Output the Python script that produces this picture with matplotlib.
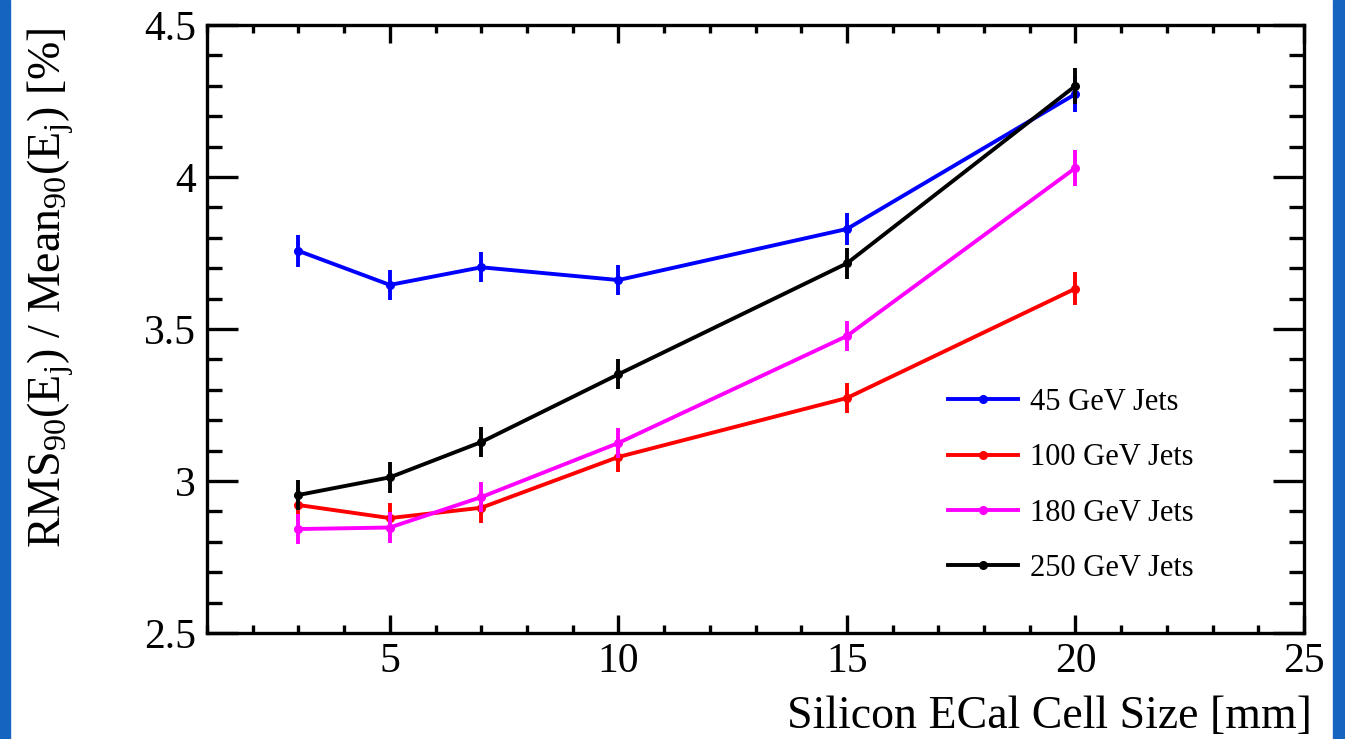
import matplotlib
matplotlib.use("Agg")
import matplotlib.pyplot as plt
from matplotlib.ticker import MultipleLocator, FormatStrFormatter
from matplotlib.patches import Rectangle

plt.rcParams['font.family'] = ['Liberation Serif', 'DejaVu Serif']
plt.rcParams['mathtext.fontset'] = 'custom'
plt.rcParams['mathtext.rm'] = 'Liberation Serif'
plt.rcParams['mathtext.it'] = 'Liberation Serif:italic'
plt.rcParams['mathtext.default'] = 'regular'

# Datos
cell_size = [3, 5, 7, 10, 15, 20]
res_45 = [3.757, 3.645, 3.703, 3.661, 3.829, 4.273]
res_100 = [2.921, 2.878, 2.912, 3.079, 3.273, 3.633]
res_180 = [2.842, 2.847, 2.947, 3.125, 3.477, 4.030]
res_250 = [2.954, 3.012, 3.128, 3.351, 3.716, 4.300]
err_45 = [0.053, 0.050, 0.050, 0.050, 0.053, 0.060]
err_100 = [0.050, 0.050, 0.050, 0.050, 0.050, 0.053]
err_180 = [0.050, 0.050, 0.050, 0.050, 0.050, 0.060]
err_250 = [0.050, 0.050, 0.050, 0.050, 0.050, 0.060]

series = [
    ("45 GeV Jets", res_45, err_45, "#0000ff"),
    ("100 GeV Jets", res_100, err_100, "#ff0000"),
    ("180 GeV Jets", res_180, err_180, "#ff00ff"),
    ("250 GeV Jets", res_250, err_250, "#000000"),
]

fig = plt.figure(figsize=(13.45, 7.39), dpi=100)
fig.patch.set_facecolor("white")

# bordes azules del fondo
fig.patches.append(Rectangle((0, 0), 10 / 1345, 1, transform=fig.transFigure,
                             color="#1565c0", zorder=0))
fig.patches.append(Rectangle((1333 / 1345, 0), 12 / 1345, 1, transform=fig.transFigure,
                             color="#1565c0", zorder=0))

ax = fig.add_axes([207 / 1345, 1 - 633 / 739, 1097 / 1345, 608 / 739])

for label, vals, errs, col in series:
    ax.errorbar(cell_size, vals, yerr=errs, fmt="none", ecolor=col,
                elinewidth=2.8, capsize=0)
    ax.plot(cell_size, vals, color=col, lw=2.8, marker="o", markersize=5.5,
            label=label)

ax.set_xlim(1, 25)
ax.set_ylim(2.5, 4.5)
ax.xaxis.set_major_locator(MultipleLocator(5))
ax.xaxis.set_minor_locator(MultipleLocator(1))
ax.yaxis.set_major_locator(MultipleLocator(0.5))
ax.yaxis.set_minor_locator(MultipleLocator(0.1))
ax.yaxis.set_major_formatter(FormatStrFormatter("%g"))

for sp in ax.spines.values():
    sp.set_linewidth(2.4)

ax.tick_params(which="both", direction="in", top=True, right=True, width=2.4,
               labelsize=30, labelfontfamily="Liberation Serif")
ax.tick_params(axis="x", which="major", length=13, pad=7)
ax.tick_params(axis="x", which="minor", length=6)
ax.tick_params(axis="y", which="major", length=22, pad=8)
ax.tick_params(axis="y", which="minor", length=11)

fig.text(1312 / 1345, 11 / 739, "Silicon ECal Cell Size [mm]", ha="right",
         va="baseline", fontsize=33)
fig.text(26 / 1345, 1 - 27 / 739,
         "RMS$_{90}$(E$_{j}$) / Mean$_{90}$(E$_{j}$) [%]",
         rotation=90, ha="left", va="top", fontsize=33)

ax.legend(loc="upper left", bbox_to_anchor=((948 - 207) / 1097, (633 - 388) / 608),
          frameon=False, fontsize=22, handlelength=2.3, handletextpad=0.4,
          labelspacing=0.86, borderpad=0, borderaxespad=0)

fig.savefig("out.png", dpi=100)
